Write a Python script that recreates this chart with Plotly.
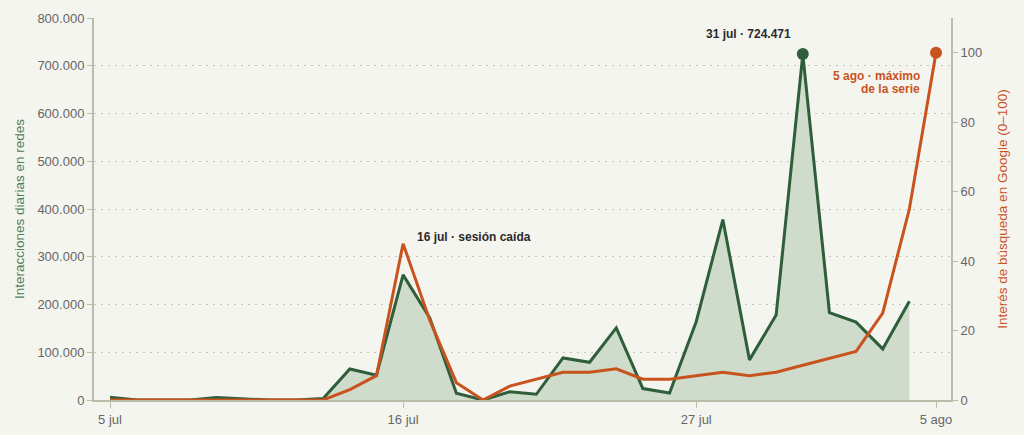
import plotly.graph_objects as go
import pandas as pd

dates_social = pd.date_range("2025-07-05", "2025-08-04", freq="D")
dates_google = pd.date_range("2025-07-05", "2025-08-05", freq="D")

interacciones = [6000, 0, 0, 0, 5000, 2000, 0, 0, 3000, 65000, 52000, 262000, 172000,
                 14000, 0, 17000, 12000, 88000, 79000, 151000, 24000, 14500, 164000,
                 378000, 84000, 178000, 724471, 183000, 163000, 107000, 207000]
interes = [0, 0, 0, 0, 0, 0, 0, 0, 0, 3, 7, 45, 23, 5, 0, 4, 6, 8, 8, 9, 6, 6, 7, 8, 7,
           8, 10, 12, 14, 25, 55, 100]

tick_dates = ["2025-07-05", "2025-07-16", "2025-07-27", "2025-08-05"]
tick_labels = ["5 jul", "16 jul", "27 jul", "5 ago"]
left_ticks = [0, 100000, 200000, 300000, 400000, 500000, 600000, 700000, 800000]
right_ticks = [0, 20, 40, 60, 80, 100]

GREEN = "#2f5e3b"
ORANGE = "#c9531f"
BG = "#f5f5f0"
AXIS = "#b9bdaa"
TICKC = "#666666"

fig = go.Figure()
fig.add_trace(go.Scatter(
    x=dates_social, y=interacciones, mode="lines",
    line=dict(color=GREEN, width=3), fill="tozeroy",
    fillcolor="#cfdccb", hoverinfo="skip", showlegend=False))
peak_i = interacciones.index(max(interacciones))
fig.add_trace(go.Scatter(
    x=[dates_social[peak_i]], y=[interacciones[peak_i]], mode="markers",
    marker=dict(color=GREEN, size=12), showlegend=False))
fig.add_trace(go.Scatter(
    x=dates_google, y=interes, mode="lines", yaxis="y2",
    line=dict(color=ORANGE, width=3), showlegend=False))
fig.add_trace(go.Scatter(
    x=[dates_google[-1]], y=[interes[-1]], mode="markers", yaxis="y2",
    marker=dict(color=ORANGE, size=12), showlegend=False))

fig.add_annotation(x=dates_social[peak_i], y=interacciones[peak_i], text="<b>31 jul · 724.471</b>",
                   showarrow=False, xanchor="right", yanchor="bottom", xshift=-10, yshift=11,
                   font=dict(size=12, color="#2a2a2a"))
fig.add_annotation(x=dates_google[11], y=interes[11], yref="y2", text="<b>16 jul · sesión caída</b>",
                   showarrow=False, xanchor="left", yanchor="middle", xshift=12, yshift=7,
                   font=dict(size=12, color="#2a2a2a"))
fig.add_annotation(x=dates_google[-1], y=interes[-1], yref="y2",
                   text="<b>5 ago · máximo</b>", align="right",
                   showarrow=False, xanchor="right", yanchor="middle", xshift=-14, yshift=-23,
                   font=dict(size=12, color=ORANGE))
fig.add_annotation(x=dates_google[-1], y=interes[-1], yref="y2",
                   text="<b>de la serie</b>", align="right",
                   showarrow=False, xanchor="right", yanchor="middle", xshift=-14, yshift=-36,
                   font=dict(size=12, color=ORANGE))

fig.update_layout(
    width=1024, height=435,
    margin=dict(l=94, r=73, t=18, b=35),
    paper_bgcolor=BG, plot_bgcolor=BG,
    separators=",.",
    font=dict(family="Liberation Sans, Arial, sans-serif", size=13, color=TICKC),
    xaxis=dict(
        range=[pd.Timestamp("2025-07-04 09:35"), pd.Timestamp("2025-08-05 13:30")],
        tickvals=pd.to_datetime(tick_dates), ticktext=tick_labels, automargin=False,
        showgrid=False, showline=True, linecolor=AXIS, linewidth=2,
        ticks="outside", ticklen=6, tickcolor=AXIS, zeroline=False),
    yaxis=dict(
        range=[0, 800000], tickvals=left_ticks, tickformat=",d", automargin=False,
        showgrid=True, gridcolor="#c6c6bc", griddash="2px,5px", gridwidth=1,
        showline=True, linecolor=AXIS, linewidth=2, ticks="outside", ticklen=5,
        tickcolor=AXIS, zeroline=False,
        title=dict(text="Interacciones diarias en redes", font=dict(color="#4f7d57", size=13.5),
                   standoff=10)),
    yaxis2=dict(
        range=[0, 110], tickvals=right_ticks, overlaying="y", side="right", automargin=False,
        showgrid=False, showline=True, linecolor=AXIS, linewidth=2, ticks="outside",
        ticklen=5, tickcolor=AXIS, zeroline=False,
        title=dict(text="Interés de búsqueda en Google (0–100)", font=dict(color=ORANGE, size=13.5),
                   standoff=16)),
)

fig.write_html("out.html", config={"displayModeBar": False},
               post_script="document.body.style.margin='0';document.body.style.background='#f5f5f0';document.body.style.overflow='hidden';")
